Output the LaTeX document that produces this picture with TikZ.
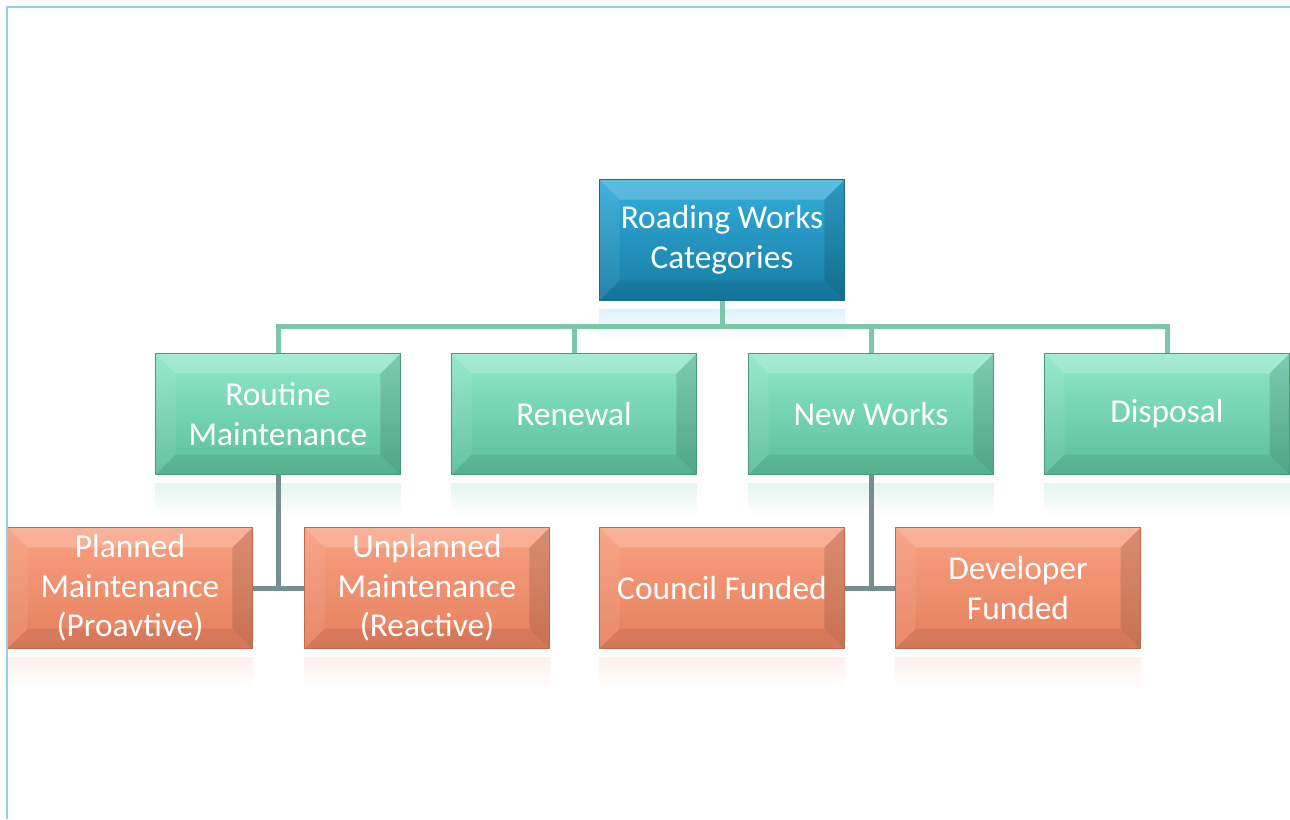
\documentclass[tikz,border=0pt]{standalone}
\usepackage{fontspec}
\setmainfont{Carlito}
\usetikzlibrary{positioning}
\definecolor{rootTop}{HTML}{34AEDC}
\definecolor{rootBot}{HTML}{157CA3}
\definecolor{rootEdge}{HTML}{1B6A88}
\definecolor{catTop}{HTML}{8FE8C8}
\definecolor{catBot}{HTML}{5ABF98}
\definecolor{catEdge}{HTML}{4A9A7A}
\definecolor{subTop}{HTML}{F8A080}
\definecolor{subBot}{HTML}{E6805E}
\definecolor{subEdge}{HTML}{C06A4C}
\definecolor{busline}{HTML}{7CC6AA}
\definecolor{stemline}{HTML}{768E8F}
\definecolor{frameblue}{HTML}{94CFE6}
\tikzset{every picture/.style={line width=0.75pt}}
\tikzset{
  bevel/.style={path picture={
      \fill[white, opacity=0.2] (path picture bounding box.north west) -- (path picture bounding box.north east)
        -- ([shift={(-0.4cm,-0.4cm)}]path picture bounding box.north east) -- ([shift={(0.4cm,-0.4cm)}]path picture bounding box.north west) -- cycle;
      \fill[white, opacity=0.07] (path picture bounding box.north west) -- ([shift={(0.4cm,-0.4cm)}]path picture bounding box.north west)
        -- ([shift={(0.4cm,0.4cm)}]path picture bounding box.south west) -- (path picture bounding box.south west) -- cycle;
      \fill[black, opacity=0.07] (path picture bounding box.south west) -- ([shift={(0.4cm,0.4cm)}]path picture bounding box.south west)
        -- ([shift={(-0.4cm,0.4cm)}]path picture bounding box.south east) -- (path picture bounding box.south east) -- cycle;
      \fill[black, opacity=0.12] (path picture bounding box.north east) -- (path picture bounding box.south east)
        -- ([shift={(-0.4cm,0.4cm)}]path picture bounding box.south east) -- ([shift={(-0.4cm,-0.4cm)}]path picture bounding box.north east) -- cycle;
  }},
  wbox/.style={rectangle, draw=#1Edge, top color=#1Top, bottom color=#1Bot, bevel,
    minimum width=4.9cm, minimum height=2.42cm, inner sep=0pt, text=white, align=center,
    font=\fontsize{19}{22.5}\selectfont},
  refl/.style={top color=#1!16, bottom color=white, draw=none},
  topline/.style={draw=busline, line width=0.1cm},
  stemln/.style={draw=stemline, line width=0.1cm}
}
\begin{document}
\begin{tikzpicture}[x=0.02cm, y=-0.02cm]
    \useasboundingbox (0,0) rectangle (1290,819);
    % boxes
    \node[wbox=root] (root)      at (722,240)  {Roading Works\\Categories};
    \node[wbox=cat]  (routine)   at (278,414)  {Routine\\Maintenance};
    \node[wbox=cat]  (renewal)   at (574,414)  {Renewal};
    \node[wbox=cat]  (newworks)  at (871,414)  {New Works};
    \node[wbox=cat]  (disposal)  at (1167,414) {Disposal\vphantom{g}};
    \node[wbox=sub]  (planned)   at (130,588)  {Planned\\Maintenance\\(Proavtive)};
    \node[wbox=sub]  (unplanned) at (427,588)  {Unplanned\\Maintenance\\(Reactive)};
    \node[wbox=sub]  (council)   at (722,588)  {Council Funded};
    \node[wbox=sub]  (developer) at (1018,588) {Developer\\Funded};
    % reflections
    \fill[refl=rootTop] ([yshift=-0.16cm]root.south west) rectangle ([yshift=-0.8cm]root.south east);
    \foreach \n in {routine,renewal,newworks,disposal}
        \fill[refl=catBot] ([yshift=-0.16cm]\n.south west) rectangle ([yshift=-0.8cm]\n.south east);
    \foreach \n in {planned,unplanned,council,developer}
        \fill[refl=subTop] ([yshift=-0.16cm]\n.south west) rectangle ([yshift=-0.8cm]\n.south east);
    % connectors
    \coordinate (bus) at (722,326);
    \draw[topline] (root.south) -- (bus);
    \draw[topline] (routine.north) -- (routine.north |- bus) -- (disposal.north |- bus) -- (disposal.north);
    \draw[topline] (renewal.north) -- (renewal.north |- bus);
    \draw[topline] (newworks.north) -- (newworks.north |- bus);
    \draw[stemln] (routine.south) |- (planned.east);
    \draw[stemln] (routine.south |- planned.east) -- (unplanned.west);
    \draw[stemln] (newworks.south) |- (council.east);
    \draw[stemln] (newworks.south |- council.east) -- (developer.west);
    % frame edge
    \draw[frameblue, line width=0.05cm] (7,819) -- (7,7) -- (1290,7);
\end{tikzpicture}
\end{document}
